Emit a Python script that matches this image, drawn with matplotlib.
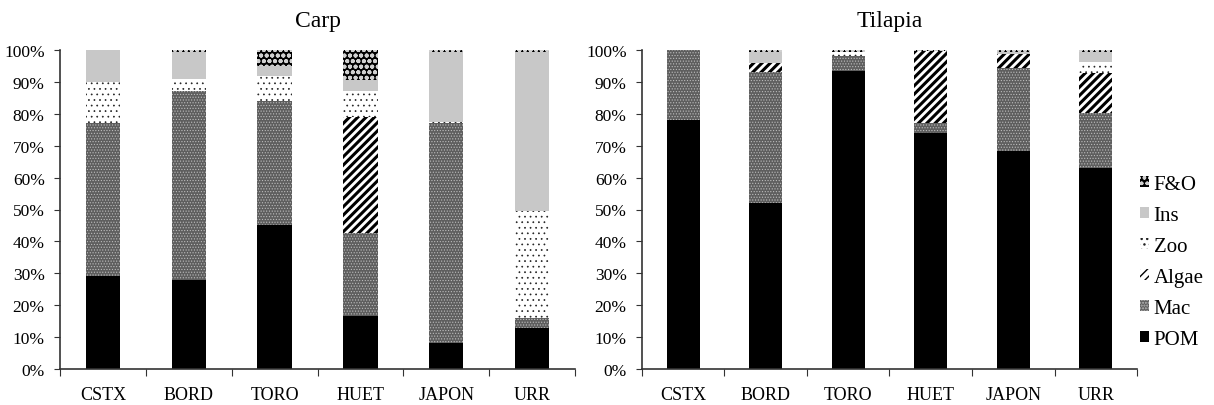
import numpy as np
import matplotlib
matplotlib.use("Agg")
import matplotlib.pyplot as plt
from matplotlib.patches import Patch

plt.rcParams['font.family'] = ['Liberation Serif', 'DejaVu Serif']

sites = ['CSTX', 'BORD', 'TORO', 'HUET', 'JAPON', 'URR']
foods = ['POM', 'Mac', 'Algae', 'Zoo', 'Ins', 'F&O']

# diet share (%) per site, one list per food item
carp_pom   = [29.0, 28.0, 45.0, 16.5, 8.0, 12.7]
carp_mac   = [48.0, 59.0, 39.0, 26.0, 69.0, 3.3]
carp_algae = [0.0, 0.0, 0.0, 36.5, 0.0, 0.0]
carp_zoo   = [13.0, 4.0, 8.0, 8.0, 0.5, 33.6]
carp_ins   = [10.0, 8.3, 3.0, 3.5, 21.8, 49.7]
carp_fo    = [0.0, 0.7, 5.0, 9.5, 0.7, 0.7]

til_pom   = [78.0, 52.0, 93.3, 74.0, 68.2, 63.0]
til_mac   = [22.0, 41.0, 4.7, 3.2, 26.2, 17.2]
til_algae = [0.0, 2.8, 0.0, 22.5, 4.2, 12.6]
til_zoo   = [0.0, 0.0, 1.3, 0.0, 0.0, 3.4]
til_ins   = [0.0, 3.5, 0.0, 0.0, 0.7, 3.2]
til_fo    = [0.0, 0.7, 0.7, 0.3, 0.7, 0.6]

carp = [carp_pom, carp_mac, carp_algae, carp_zoo, carp_ins, carp_fo]
tilapia = [til_pom, til_mac, til_algae, til_zoo, til_ins, til_fo]

# face, hatch colour, hatch, hatch linewidth
styles = {
    'POM':   ('black',   'black',   None,       1.0),
    'Mac':   ('#5e5e5e', '#bcbcbc', '......',   0.5),
    'Algae': ('white',   'black',   '////',     2.2),
    'Zoo':   ('white',   '#222222', '...',      0.5),
    'Ins':   ('#c8c8c8', '#c8c8c8', None,       1.0),
    'F&O':   ('black',   '#d0d0d0', 'ooo',      1.3),
}

fig = plt.figure(figsize=(12.14, 4.06), dpi=100)
ax1 = fig.add_axes([60/1214, 36/406, 515/1214, 319/406])
ax2 = fig.add_axes([642/1214, 36/406, 495/1214, 319/406])

x = np.arange(len(sites))

def draw(ax, data, title):
    bottom = np.zeros(len(sites))
    for name, vals in zip(foods, data):
        fc, hc, hatch, hlw = styles[name]
        with plt.rc_context({'hatch.linewidth': hlw}):
            bars = ax.bar(x, vals, 0.4, bottom=bottom, color=fc,
                          edgecolor=hc, hatch=hatch, linewidth=0)
            for b in bars:
                if hasattr(b, 'set_hatch_linewidth'):
                    b.set_hatch_linewidth(hlw)
        bottom += np.array(vals)
    ax.set_xlim(-0.5, 5.5)
    ax.set_ylim(0, 100)
    ax.set_yticks(np.arange(0, 101, 10))
    ax.set_yticklabels(['%d%%' % v for v in range(0, 101, 10)])
    ax.set_xticks(np.arange(-0.5, 6, 1))
    ax.set_xticklabels([])
    ax.set_xticks(x, minor=True)
    ax.set_xticklabels(sites, minor=True)
    ax.tick_params(axis='x', which='minor', length=0, pad=12, labelsize=13)
    ax.tick_params(axis='x', which='major', length=5, direction='out',
                   color='#333333')
    ax.tick_params(axis='y', length=4, direction='out', pad=7,
                   labelsize=12.5, color='#333333')
    for s in ['top', 'right']:
        ax.spines[s].set_visible(False)
    for s in ['left', 'bottom']:
        ax.spines[s].set_color('#333333')
        ax.spines[s].set_linewidth(1.2)
    ax.set_title(title, fontsize=17, pad=17)

draw(ax1, carp, 'Carp')
draw(ax2, tilapia, 'Tilapia')

handles = []
for name in foods[::-1]:
    fc, hc, hatch, hlw = styles[name]
    with plt.rc_context({'hatch.linewidth': hlw}):
        p = Patch(facecolor=fc, edgecolor=hc, hatch=hatch, linewidth=0)
        if hasattr(p, 'set_hatch_linewidth'):
            p.set_hatch_linewidth(hlw)
    handles.append(p)

fig.legend(handles, foods[::-1], loc='center left',
           bbox_to_anchor=(1140/1214, 1 - 263/406), frameon=False,
           fontsize=15, handlelength=0.45, handleheight=0.45,
           handletextpad=0.2, labelspacing=0.58, borderaxespad=0,
           borderpad=0)

fig.savefig('out.png', dpi=100)
